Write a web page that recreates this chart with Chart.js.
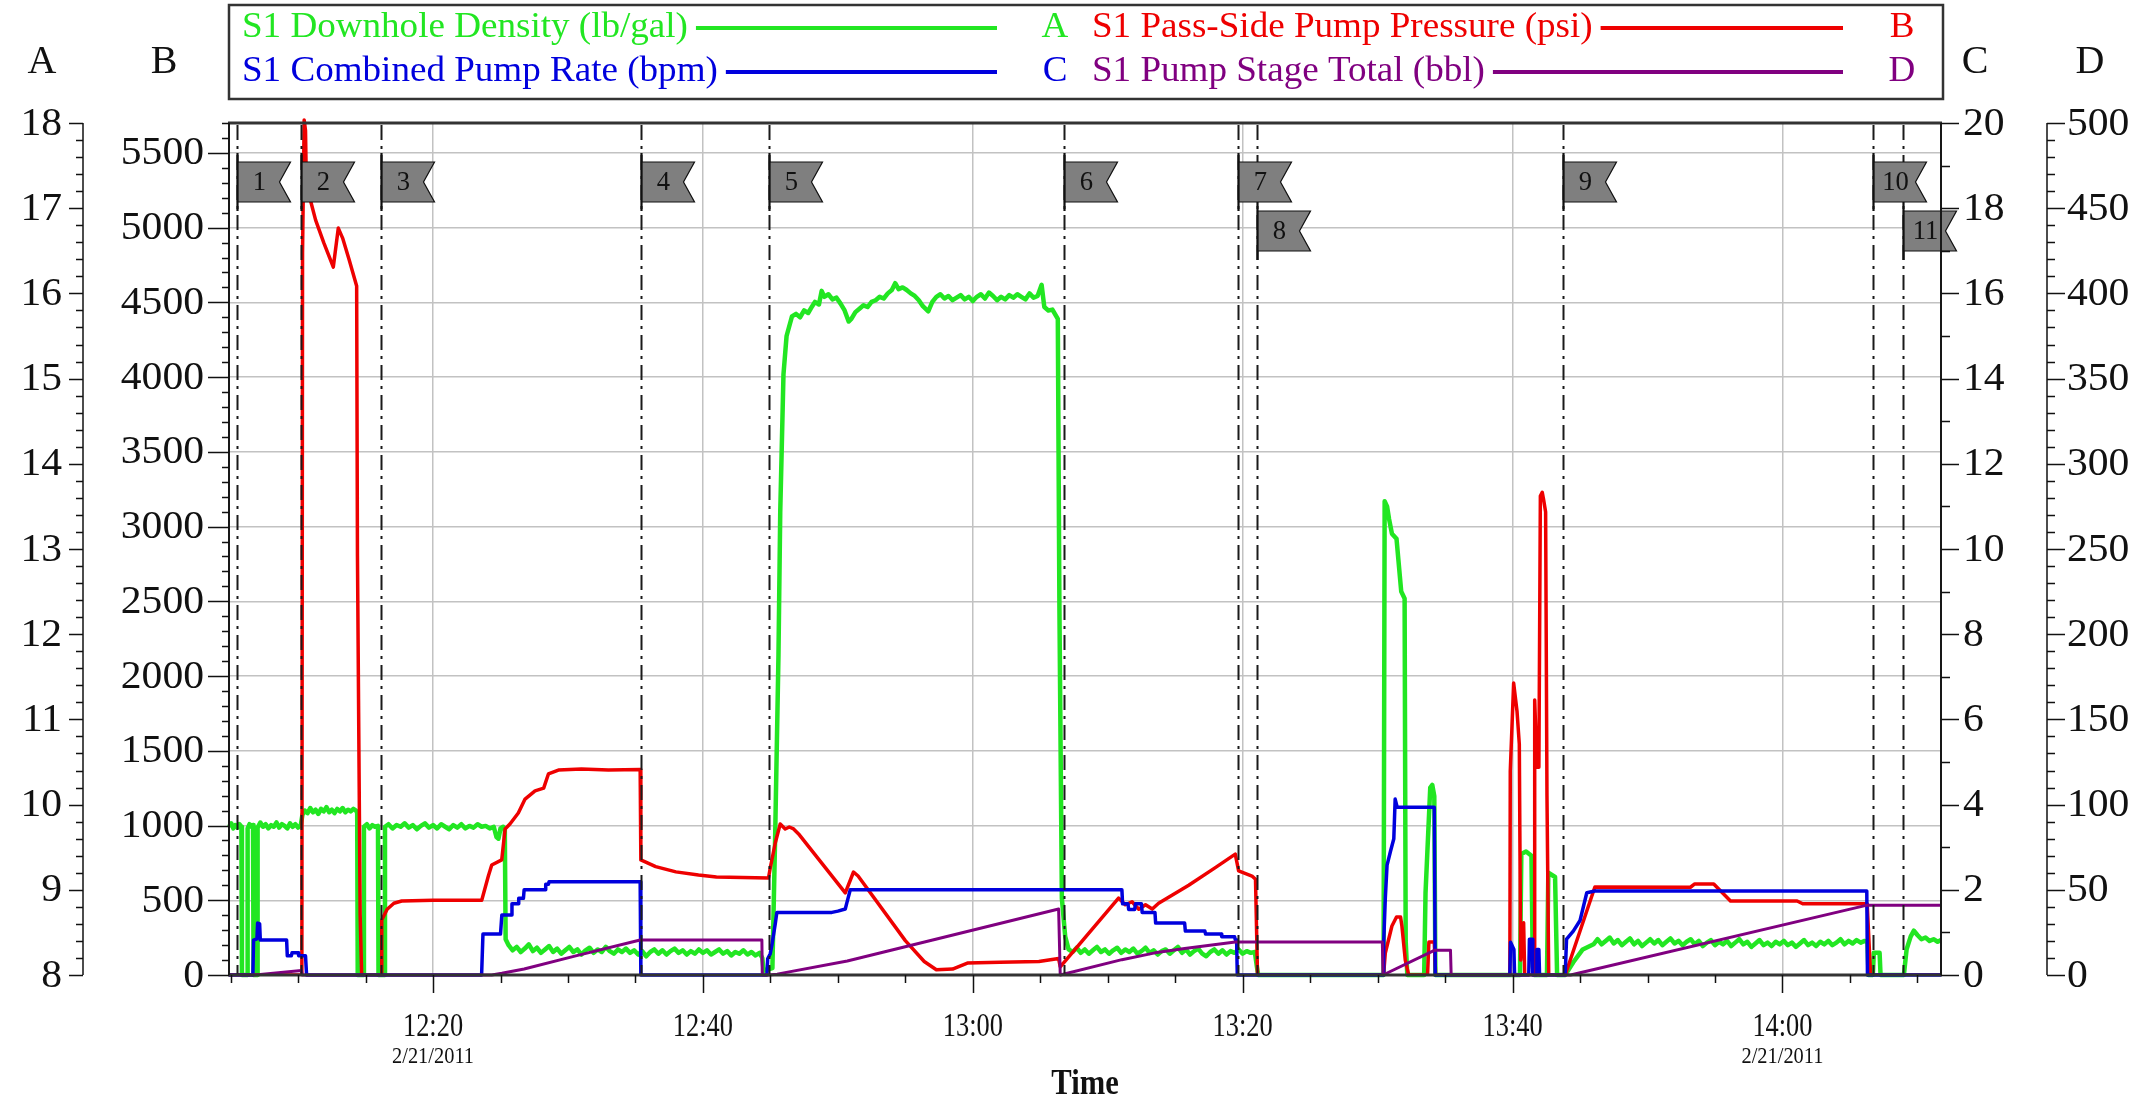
<!DOCTYPE html>
<html><head><meta charset="utf-8">
<script src="https://cdn.jsdelivr.net/npm/chart.js@4.4.1/dist/chart.umd.min.js"></script>
<style>html,body{margin:0;padding:0;background:#fff;overflow:hidden}canvas{display:block}</style>
</head><body>
<canvas id="c" width="2141" height="1099"></canvas>
<script>
// ---------------- DATA ----------------
// time values are minutes after 12:00 on 2/21/2011
const timeMin = 4.88, timeMax = 131.75;
const timeTicks = [20, 40, 60, 80, 100, 120];
const timeTickLabels = ['12:20', '12:40', '13:00', '13:20', '13:40', '14:00'];
const dateTickTimes = [20, 120];
const dateText = '2/21/2011';
const xTitle = 'Time';

const axisATicks = [8, 9, 10, 11, 12, 13, 14, 15, 16, 17, 18];
const axisBTicks = [0, 500, 1000, 1500, 2000, 2500, 3000, 3500, 4000, 4500, 5000, 5500];
const axisCTicks = [0, 2, 4, 6, 8, 10, 12, 14, 16, 18, 20];
const axisDTicks = [0, 50, 100, 150, 200, 250, 300, 350, 400, 450, 500];
const axisRanges = {A: [8, 18], B: [0, 5700], C: [0, 20], D: [0, 500]};
const axisNames = ['A', 'B', 'C', 'D'];

const seriesNames = ['S1 Downhole Density (lb/gal)', 'S1 Pass-Side Pump Pressure (psi)',
                     'S1 Combined Pump Rate (bpm)', 'S1 Pump Stage Total (bbl)'];
const seriesAxes = ['A', 'B', 'C', 'D'];

const eventTimes = [5.45, 10.21, 16.15, 35.42, 44.91, 66.78, 79.66, 81.08, 103.72, 126.7, 128.97];
const eventLabels = ['1', '2', '3', '4', '5', '6', '7', '8', '9', '10', '11'];

const density = [
[4.88,9.74],[5.05,9.78],[5.2,9.72],[5.35,9.76],[5.5,9.73],[5.65,9.77],[5.8,9.74],[5.84,8.0],[6.22,8.0],[6.26,9.72],[6.4,9.77],[6.55,9.74],[6.66,9.76],[6.7,8.0],[6.96,8.0],[7.0,9.73],[7.2,9.79],[7.4,9.74],[7.6,9.77],[7.8,9.72],[8.0,9.76],[8.2,9.74],[8.4,9.79],[8.6,9.73],[8.8,9.77],[9.0,9.75],[9.2,9.72],[9.4,9.78],[9.6,9.74],[9.8,9.77],[10.0,9.73],[10.2,9.76],
[10.32,9.88],[10.5,9.93],[10.7,9.9],[10.9,9.96],[11.1,9.91],[11.3,9.94],[11.5,9.89],[11.7,9.95],[11.9,9.92],[12.1,9.97],[12.3,9.91],[12.5,9.94],[12.7,9.9],[12.9,9.95],[13.1,9.92],[13.3,9.96],[13.5,9.91],[13.7,9.94],[13.9,9.92],[14.1,9.95],[14.3,9.93],[14.38,9.9],[14.42,8.0],[14.82,8.0],[14.88,9.74],[15.1,9.77],[15.3,9.72],[15.5,9.76],[15.7,9.74],[15.92,9.75],[15.96,8.0],[16.38,8.0],[16.44,9.74],
[16.7,9.77],[17.0,9.72],[17.3,9.76],[17.6,9.74],[17.9,9.78],[18.2,9.73],[18.5,9.76],[18.8,9.71],[19.1,9.75],[19.4,9.78],[19.7,9.73],[20.0,9.76],[20.3,9.72],[20.6,9.77],[20.9,9.74],[21.2,9.71],[21.5,9.76],[21.8,9.73],[22.1,9.77],[22.4,9.72],[22.7,9.75],[23.0,9.73],[23.3,9.77],[23.6,9.74],[23.9,9.75],[24.2,9.72],[24.5,9.74],[24.7,9.62],[24.85,9.6],[25.0,9.72],[25.2,9.74],[25.32,9.7],[25.38,8.42],
[25.6,8.35],[25.9,8.29],[26.2,8.33],[26.5,8.27],[26.8,8.31],[27.1,8.36],[27.4,8.28],[27.7,8.32],[28.0,8.26],[28.3,8.3],[28.6,8.34],[28.9,8.27],[29.2,8.31],[29.5,8.25],[29.8,8.29],[30.1,8.33],[30.4,8.27],[30.7,8.3],[31.0,8.24],[31.3,8.29],[31.6,8.32],[31.9,8.26],[32.2,8.3],[32.5,8.27],[32.8,8.33],[33.1,8.28],[33.4,8.25],[33.7,8.3],[34.0,8.27],[34.3,8.31],[34.6,8.26],[34.9,8.29],[35.2,8.24],[35.5,8.28],[35.8,8.22],[36.1,8.27],[36.4,8.3],[36.7,8.25],[37.0,8.29],[37.3,8.24],[37.6,8.28],[37.9,8.31],[38.2,8.26],[38.5,8.29],[38.8,8.24],[39.1,8.28],[39.4,8.25],[39.7,8.3],[40.0,8.26],[40.3,8.29],[40.6,8.24],[40.9,8.27],[41.2,8.3],[41.5,8.25],[41.8,8.28],[42.1,8.23],[42.4,8.27],[42.7,8.25],[43.0,8.29],[43.3,8.24],[43.6,8.27],[43.9,8.23],[44.2,8.26],[44.4,8.2],[44.5,8.05],[45.15,8.08],
[45.36,9.68],[45.6,11.76],[45.73,13.43],[45.97,15.05],[46.2,15.5],[46.6,15.73],[46.9,15.76],[47.2,15.72],[47.5,15.8],[47.8,15.77],[48.1,15.85],[48.3,15.9],[48.6,15.87],[48.8,16.03],[49.0,15.96],[49.3,15.99],[49.6,15.93],[49.9,15.95],[50.2,15.88],[50.5,15.8],[50.8,15.67],[51.0,15.7],[51.3,15.78],[51.6,15.82],[51.9,15.86],[52.2,15.84],[52.5,15.9],[52.8,15.92],[53.1,15.96],[53.4,15.94],[53.7,16.0],[54.0,16.04],[54.25,16.12],[54.5,16.05],[54.8,16.07],[55.1,16.04],[55.4,16.0],[55.7,15.97],[56.0,15.92],[56.3,15.85],[56.7,15.79],[57.0,15.9],[57.3,15.96],[57.6,15.99],[57.9,15.94],[58.2,15.97],[58.5,15.92],[58.8,15.95],[59.1,15.98],[59.4,15.93],[59.7,15.96],[60.0,15.91],[60.3,15.96],[60.6,15.99],[60.9,15.94],[61.2,16.01],[61.5,15.97],[61.8,15.92],[62.1,15.96],[62.4,15.93],[62.7,15.98],[63.0,15.95],[63.3,15.99],[63.6,15.96],[63.9,15.93],[64.2,16.0],[64.5,15.95],[64.8,15.97],[65.1,16.1],[65.3,15.84],[65.6,15.8],[65.9,15.81],[66.3,15.7],[66.42,12.3],[66.6,8.9],[66.85,8.45],
[67.1,8.3],[67.4,8.27],[67.7,8.32],[68.0,8.26],[68.3,8.3],[68.6,8.25],[68.9,8.29],[69.2,8.33],[69.5,8.27],[69.8,8.3],[70.1,8.25],[70.4,8.29],[70.7,8.32],[71.0,8.26],[71.3,8.3],[71.6,8.27],[71.9,8.31],[72.2,8.25],[72.5,8.28],[72.8,8.32],[73.1,8.26],[73.4,8.29],[73.7,8.24],[74.0,8.28],[74.3,8.3],[74.6,8.25],[74.9,8.29],[75.2,8.33],[75.5,8.26],[75.8,8.3],[76.1,8.24],[76.4,8.28],[76.7,8.31],[77.0,8.25],[77.3,8.22],[77.6,8.27],[77.9,8.3],[78.2,8.25],[78.5,8.29],[78.8,8.24],[79.1,8.28],[79.4,8.26],[79.7,8.3],[80.0,8.25],[80.3,8.28],[80.6,8.26],[80.9,8.27],[81.05,8.1],[81.15,8.0],
[90.44,8.0],[90.52,13.56],[90.7,13.5],[90.85,13.35],[91.06,13.18],[91.4,13.12],[91.75,12.5],[92.0,12.42],[92.08,8.4],[92.2,8.0],[93.45,8.0],[93.55,8.96],[93.9,10.2],[94.05,10.23],[94.2,10.1],[94.28,8.0],
[100.55,8.0],[100.65,9.42],[101.0,9.45],[101.4,9.4],[101.5,8.1],[101.6,8.0],[102.55,8.0],[102.65,9.2],[103.15,9.15],[103.3,8.0],[103.9,8.0],[104.5,8.15],[105.2,8.3],[106.0,8.36],
[106.3,8.42],[106.6,8.36],[106.9,8.4],[107.2,8.44],[107.5,8.37],[107.8,8.41],[108.1,8.35],[108.4,8.39],[108.7,8.43],[109.0,8.36],[109.3,8.4],[109.6,8.34],[109.9,8.38],[110.2,8.42],[110.5,8.37],[110.8,8.41],[111.1,8.35],[111.4,8.39],[111.7,8.43],[112.0,8.37],[112.3,8.4],[112.6,8.35],[112.9,8.39],[113.2,8.42],[113.5,8.36],[113.8,8.4],[114.1,8.34],[114.4,8.38],[114.7,8.41],[115.0,8.35],[115.3,8.39],[115.6,8.36],[115.9,8.4],[116.2,8.34],[116.5,8.38],[116.8,8.42],[117.1,8.36],[117.4,8.39],[117.7,8.33],[118.0,8.37],[118.3,8.41],[118.6,8.35],[118.9,8.38],[119.2,8.34],[119.5,8.39],[119.8,8.36],[120.1,8.4],[120.4,8.35],[120.7,8.38],[121.0,8.33],[121.3,8.37],[121.6,8.41],[121.9,8.35],[122.2,8.38],[122.5,8.34],[122.8,8.39],[123.1,8.36],[123.4,8.4],[123.7,8.35],[124.0,8.38],[124.3,8.42],[124.6,8.36],[124.9,8.4],[125.2,8.37],[125.5,8.41],[125.8,8.38],[126.1,8.4],[126.3,8.38],[126.38,8.0],[126.7,8.0],[126.77,8.26],[127.2,8.26],[127.27,8.0],[129.0,8.0],[129.2,8.3],[129.5,8.45],[129.74,8.52],[130.0,8.47],[130.3,8.42],[130.6,8.44],[130.9,8.4],[131.2,8.42],[131.5,8.39],[131.75,8.41]
];

const pressure = [
[4.88,0],[10.28,0],[10.33,4830],[10.45,5720],[10.55,5650],[10.62,5250],[10.76,5237],[11.3,5050],[11.9,4900],[12.61,4736],[12.98,4997],[13.3,4930],[13.8,4780],[14.34,4609],[14.4,2803],[14.6,400],[14.71,0],
[16.15,0],[16.2,368],[16.6,440],[17.1,480],[17.68,495],[20,500],[23.61,500],[24.1,662],[24.35,736],[25.09,770],[25.34,977],[25.7,1010],[26.32,1084],[26.82,1177],[27.56,1232],[28.2,1250],[28.55,1345],[29.29,1371],[31,1378],[33,1372],[35.35,1375],
[35.4,770],[36.5,725],[38,690],[39.67,669],[41,655],[44.86,649],[44.99,716],[45.36,883],[45.73,1010],[46.1,977],[46.4,990],[46.72,977],[47.09,944],[50.55,549],[51.16,689],[51.5,662],[55.0,230],[56.4,90],[57.3,35],[58.5,40],[59.6,80],[62,85],[64.9,90],[66.36,110],
[66.48,55],[70.8,515],[71.3,470],[71.8,490],[72.3,440],[72.8,470],[73.3,441],[73.77,480],[76,600],[78,720],[79.45,809],[79.7,696],[80.69,662],[80.95,640],[81.1,0],
[90.44,0],[90.57,147],[91.06,328],[91.4,388],[91.7,388],[91.8,328],[92.05,100],[92.3,0],[93.7,0],[93.8,220],[94.2,220],[94.3,0],
[99.8,0],[99.83,1365],[100.08,1953],[100.33,1765],[100.5,1545],[100.6,100],[100.82,350],[100.9,0],[101.6,0],[101.64,1840],[101.81,1390],[101.95,1390],[102.06,3204],[102.2,3230],[102.3,3180],[102.45,3097],[102.55,1200],[102.68,0],
[103.9,0],[106.1,589],[113.18,587],[113.5,609],[114.91,609],[116.15,495],[121.09,495],[121.5,477],[126.28,477],[126.53,0],[131.75,0]
];

const rate = [
[4.88,0],[6.65,0],[6.7,0.82],[6.95,0.85],[7.0,1.22],[7.15,1.2],[7.2,0.82],[9.15,0.82],[9.2,0.45],[9.5,0.45],[9.55,0.52],[10.0,0.52],[10.05,0.45],[10.55,0.45],[10.63,0],
[23.6,0],[23.7,0.96],[25.0,0.96],[25.1,1.41],[25.8,1.41],[25.85,1.67],[26.3,1.67],[26.35,1.8],[26.7,1.8],[26.75,2.0],[28.3,2.0],[28.35,2.13],[28.55,2.13],[28.6,2.19],[35.35,2.19],[35.4,0],
[44.74,0],[44.8,0.38],[44.99,0.5],[45.11,0.7],[45.36,1.2],[45.48,1.47],[49.56,1.47],[50.0,1.5],[50.55,1.55],[50.67,1.7],[50.92,2.0],
[71.05,2.0],[71.1,1.67],[71.5,1.67],[71.55,1.54],[72.0,1.54],[72.05,1.67],[72.5,1.67],[72.55,1.47],[73.5,1.47],[73.55,1.22],[75.7,1.22],[75.75,1.03],[77.2,1.03],[77.25,0.96],[78.4,0.96],[78.45,0.9],[79.4,0.9],[79.45,0.83],[79.55,0.83],[79.6,0],
[90.4,0],[90.45,0.77],[90.57,1.8],[90.7,2.58],[90.95,2.9],[91.2,3.2],[91.3,4.13],[91.45,3.94],[94.2,3.94],[94.27,0],
[99.8,0],[99.85,0.77],[100.1,0.6],[100.15,0],[101.2,0],[101.25,0.84],[101.45,0.84],[101.5,0],[101.75,0],[101.8,0.6],[101.95,0.6],[102.0,0],
[103.9,0],[104.0,0.84],[104.5,1.03],[105.0,1.28],[105.5,1.93],[106.1,1.97],[126.25,1.97],[126.3,0],[131.75,0]
];

const stageTotal = [
[4.88,0],[6.7,0],[7.2,0.3],[10.25,2.7],[10.3,0],[24.35,0],[25.1,1],[26.75,3.5],[30.5,11.1],[35.35,20.5],[44.37,20.5],[44.4,0],
[44.86,0],[45.5,0.5],[50.7,8.2],[66.36,38.7],[66.48,0],[71.05,9],[73.5,13],[75.7,15.5],[79.45,19.4],[90.35,19.4],[90.4,0],
[94.2,14.5],[95.4,14.5],[95.45,0],[104.3,0],[126.28,41],[131.75,41]
];

// ---------------- STYLE ----------------
const FONT = "'Liberation Serif','Times New Roman',serif";
const colors = ['#22e622', '#ee0000', '#0000dd', '#800080'];
const lineWidths = [4.5, 3.5, 3.5, 3];
const GRID = '#c2c2c2';
const INK = '#111111';

function toXY(arr) { return arr.map(p => ({x: p[0], y: p[1]})); }

function txt(ctx, s, x, y, font, color, align, sx) {
  ctx.save();
  ctx.font = font;
  ctx.fillStyle = color;
  ctx.textBaseline = 'middle';
  ctx.textAlign = 'left';
  const w = ctx.measureText(s).width * sx;
  const x0 = align === 'left' ? x : (align === 'right' ? x - w : x - w / 2);
  ctx.translate(x0, y);
  ctx.scale(sx, 1);
  ctx.fillText(s, 0, 0);
  ctx.restore();
  return w;
}

function drawVAxis(ctx, scale, ax, dir, ticks, nMinor, majLen, minLen, gap, top, bottom) {
  ctx.save();
  ctx.strokeStyle = INK;
  ctx.lineWidth = 1.5;
  ctx.beginPath();
  ctx.moveTo(ax, top); ctx.lineTo(ax, bottom);
  ctx.stroke();
  const step = (ticks[1] - ticks[0]) / nMinor;
  const lo = scale.min, hi = scale.max;
  ctx.beginPath();
  for (let v = ticks[0]; v <= hi + 1e-9; v += step) {
    if (v < lo - 1e-9) continue;
    const y = Math.round(scale.getPixelForValue(v)) + 0.5;
    const isMaj = ticks.some(t => Math.abs(t - v) < step / 10);
    const len = isMaj ? majLen : minLen;
    ctx.moveTo(ax, y); ctx.lineTo(ax + dir * len, y);
  }
  ctx.stroke();
  ctx.restore();
  ticks.forEach(v => {
    const y = scale.getPixelForValue(v);
    txt(ctx, String(v), ax + dir * (majLen + gap), y + 1, '40px ' + FONT, INK, dir < 0 ? 'right' : 'left', 1.04);
  });
}

const overlay = {
  id: 'overlay',
  afterDatasetsDraw(chart) {
    const {ctx, chartArea: ca, scales} = chart;
    ctx.save();
    ctx.strokeStyle = '#1a1a1a';
    ctx.lineWidth = 2;
    ctx.setLineDash([15, 6, 3, 6]);
    eventTimes.forEach(t => {
      const x = Math.round(scales.x.getPixelForValue(t)) + 0.5;
      ctx.beginPath(); ctx.moveTo(x, ca.top + 2); ctx.lineTo(x, ca.bottom); ctx.stroke();
    });
    ctx.restore();
  },
  afterDraw(chart) {
    const {ctx, chartArea: ca, scales} = chart;
    // flags
    const FW = 53, FH = 40, NOTCH = 11, ROW0 = ca.top + 39, ROWGAP = 49;
    let lastX = -1e9;
    eventTimes.forEach((t, i) => {
      const x = Math.round(scales.x.getPixelForValue(t)) + 0.5;
      const row = (x - lastX < FW) ? 1 : 0;
      if (row === 0) lastX = x;
      const y0 = ROW0 + row * ROWGAP;
      ctx.save();
      ctx.fillStyle = '#7f7f7f';
      ctx.strokeStyle = '#101010';
      ctx.lineWidth = 1.2;
      ctx.beginPath();
      ctx.moveTo(x, y0); ctx.lineTo(x + FW, y0); ctx.lineTo(x + FW - NOTCH, y0 + FH / 2);
      ctx.lineTo(x + FW, y0 + FH); ctx.lineTo(x, y0 + FH); ctx.closePath();
      ctx.fill(); ctx.stroke();
      ctx.lineWidth = 2.2;
      ctx.beginPath(); ctx.moveTo(x, y0 - 9); ctx.lineTo(x, y0 + FH + 9); ctx.stroke();
      ctx.restore();
      txt(ctx, eventLabels[i], x + (FW - NOTCH) / 2 + 1, y0 + FH / 2 + 1, '28px ' + FONT, '#111', 'center', 0.95);
    });

    // plot frame
    ctx.save();
    ctx.strokeStyle = '#333';
    ctx.lineWidth = 2;
    ctx.strokeRect(ca.left, ca.top, ca.right - ca.left, ca.bottom - ca.top);
    ctx.lineWidth = 3;
    ctx.beginPath(); ctx.moveTo(ca.left - 1, ca.top); ctx.lineTo(ca.right + 1, ca.top); ctx.stroke();
    ctx.beginPath(); ctx.moveTo(ca.left - 1, ca.bottom); ctx.lineTo(ca.right + 1, ca.bottom); ctx.stroke();
    ctx.restore();

    // vertical axes
    const axAx = 83, axDx = 2047;
    drawVAxis(ctx, scales.yA, axAx, -1, axisATicks, 5, 14, 7, 7, ca.top, ca.bottom);
    drawVAxis(ctx, scales.yB, ca.left, -1, axisBTicks, 5, 21, 7, 4, ca.top, ca.bottom);
    drawVAxis(ctx, scales.yC, ca.right, 1, axisCTicks, 2, 18, 9, 4, ca.top, ca.bottom);
    drawVAxis(ctx, scales.yD, axDx, 1, axisDTicks, 5, 18, 8, 2, ca.top, ca.bottom);
    const titleY = 62;
    txt(ctx, axisNames[0], 42, titleY, '40px ' + FONT, INK, 'center', 1.0);
    txt(ctx, axisNames[1], 164, titleY, '40px ' + FONT, INK, 'center', 1.0);
    txt(ctx, axisNames[2], 1975, titleY, '40px ' + FONT, INK, 'center', 1.0);
    txt(ctx, axisNames[3], 2090, titleY, '40px ' + FONT, INK, 'center', 1.0);

    // x axis ticks
    ctx.save();
    ctx.strokeStyle = INK;
    ctx.lineWidth = 1.5;
    ctx.beginPath();
    const mstep = (timeTicks[1] - timeTicks[0]) / 4;
    let v0 = timeTicks[0];
    while (v0 - mstep >= scales.x.min) v0 -= mstep;
    for (let v = v0; v <= scales.x.max; v += mstep) {
      const x = Math.round(scales.x.getPixelForValue(v)) + 0.5;
      const isMaj = timeTicks.some(t => Math.abs(t - v) < 0.01);
      ctx.moveTo(x, ca.bottom); ctx.lineTo(x, ca.bottom + (isMaj ? 18 : 8));
    }
    ctx.stroke();
    ctx.restore();
    timeTicks.forEach((t, i) => {
      const x = scales.x.getPixelForValue(t);
      txt(ctx, timeTickLabels[i], x, ca.bottom + 52, '33px ' + FONT, INK, 'center', 0.8);
    });
    dateTickTimes.forEach(t => {
      const x = scales.x.getPixelForValue(t);
      txt(ctx, dateText, x, ca.bottom + 82, '24px ' + FONT, INK, 'center', 0.85);
    });
    txt(ctx, xTitle, (ca.left + ca.right) / 2, ca.bottom + 110, 'bold 36px ' + FONT, INK, 'center', 0.85);

    // legend
    const LX0 = ca.left, LX1 = 1943, LY0 = 5, LY1 = 99;
    ctx.save();
    ctx.fillStyle = '#fff';
    ctx.fillRect(LX0, LY0, LX1 - LX0, LY1 - LY0);
    ctx.strokeStyle = '#333';
    ctx.lineWidth = 2.5;
    ctx.strokeRect(LX0, LY0, LX1 - LX0, LY1 - LY0);
    ctx.restore();
    const cols = [{x: 242, lineEnd: 997, letter: 1055}, {x: 1092, lineEnd: 1843, letter: 1902}];
    const rows = [28, 72];
    const order = [[0, 0, 0], [1, 1, 0], [2, 0, 1], [3, 1, 1]]; // series, col, row
    order.forEach(([s, c, r]) => {
      const col = cols[c], y = rows[r];
      const w = txt(ctx, seriesNames[s], col.x, y, '36px ' + FONT, colors[s], 'left', 1.03);
      ctx.save();
      ctx.strokeStyle = colors[s];
      ctx.lineWidth = 4;
      ctx.beginPath(); ctx.moveTo(col.x + w + 8, y); ctx.lineTo(col.lineEnd, y); ctx.stroke();
      ctx.restore();
      txt(ctx, seriesAxes[s], col.letter, y, '36px ' + FONT, colors[s], 'center', 1.03);
    });
  }
};

const datasets = [density, pressure, rate, stageTotal].map((arr, i) => ({
  label: seriesNames[i],
  data: toXY(arr),
  yAxisID: 'y' + seriesAxes[i],
  borderColor: colors[i],
  backgroundColor: colors[i],
  borderWidth: lineWidths[i],
  pointRadius: 0,
  tension: 0,
  borderJoinStyle: 'round',
  order: 4 - i,
  clip: i === 1 ? {left: 0, right: 0, top: 8, bottom: 0} : 3
}));

new Chart(document.getElementById('c').getContext('2d'), {
  type: 'line',
  data: {datasets},
  options: {
    responsive: false,
    animation: false,
    devicePixelRatio: 1,
    layout: {padding: {left: 229, right: 200, top: 123, bottom: 124}},
    plugins: {legend: {display: false}, tooltip: {enabled: false}, title: {display: false}},
    scales: {
      x: {
        type: 'linear', min: timeMin, max: timeMax,
        afterBuildTicks: s => { s.ticks = timeTicks.map(v => ({value: v})); },
        ticks: {display: false},
        grid: {color: GRID, lineWidth: 1.5, drawTicks: false},
        border: {display: false}
      },
      yB: {
        position: 'left', min: axisRanges.B[0], max: axisRanges.B[1],
        afterBuildTicks: s => { s.ticks = axisBTicks.map(v => ({value: v})); },
        ticks: {display: false},
        grid: {color: GRID, lineWidth: 1.5, drawTicks: false},
        border: {display: false}
      },
      yA: {display: false, position: 'left', min: axisRanges.A[0], max: axisRanges.A[1]},
      yC: {display: false, position: 'right', min: axisRanges.C[0], max: axisRanges.C[1]},
      yD: {display: false, position: 'right', min: axisRanges.D[0], max: axisRanges.D[1]}
    }
  },
  plugins: [overlay]
});
</script>
</body></html>
